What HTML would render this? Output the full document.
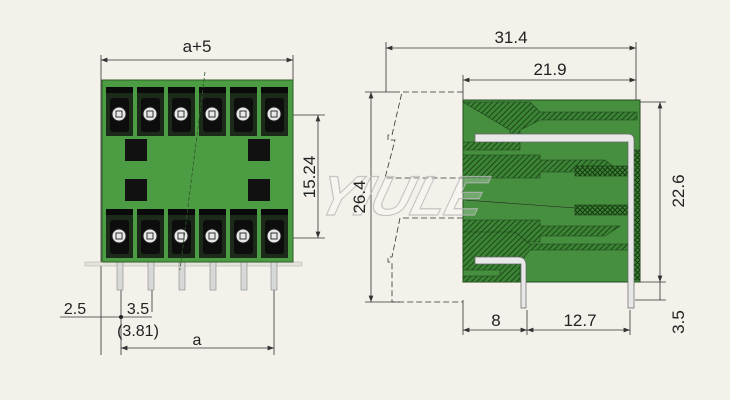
<!DOCTYPE html><html><head><style>body{margin:0;background:#f3f1ea}svg{display:block}text{font-family:"Liberation Sans",sans-serif;fill:#222}</style></head><body>
<svg width="730" height="400" viewBox="0 0 730 400" xmlns="http://www.w3.org/2000/svg">
<defs>
<pattern id="h" width="4" height="4" patternUnits="userSpaceOnUse" patternTransform="rotate(45)"><rect width="4" height="4" fill="#3b8436"/><line x1="0" y1="0" x2="0" y2="4" stroke="#15380f" stroke-width="1.6"/></pattern>
<pattern id="x" width="5" height="5" patternUnits="userSpaceOnUse"><rect width="5" height="5" fill="#3b8436"/><path d="M0,0 L5,5 M5,0 L0,5" stroke="#15380f" stroke-width="1"/></pattern>
<marker id="a" markerWidth="8" markerHeight="6" refX="8" refY="3" orient="auto-start-reverse"><path d="M0,0 L8,3 L0,6z" fill="#333"/></marker>
</defs>
<rect width="730" height="400" fill="#f3f1ea"/>
<!-- LEFT VIEW -->
<g stroke="#333" stroke-width="0.8" fill="none">
<line x1="101" y1="55" x2="101" y2="355"/><line x1="293" y1="55" x2="293" y2="80"/>
<line x1="101" y1="60" x2="293" y2="60" marker-start="url(#a)" marker-end="url(#a)"/>
<line x1="290" y1="115" x2="325" y2="115"/><line x1="290" y1="238" x2="325" y2="238"/>
<line x1="318" y1="115" x2="318" y2="238" marker-start="url(#a)" marker-end="url(#a)"/>
<line x1="121" y1="290" x2="121" y2="355"/><line x1="274" y1="290" x2="274" y2="355"/>
<line x1="152" y1="290" x2="152" y2="312"/>
<line x1="60" y1="317" x2="121" y2="317"/><line x1="121" y1="317" x2="152" y2="317"/>
<line x1="121" y1="348" x2="274" y2="348" marker-start="url(#a)" marker-end="url(#a)"/>
</g>
<circle cx="121" cy="317" r="2" fill="#222"/>
<rect x="85" y="262" width="217" height="4" fill="#e6e3da" stroke="#aaa" stroke-width="0.5"/>
<g fill="#d8d8d8" stroke="#888" stroke-width="0.6">
<rect x="117" y="262" width="6" height="28"/><rect x="148" y="262" width="6" height="28"/><rect x="179" y="262" width="6" height="28"/><rect x="210" y="262" width="6" height="28"/><rect x="241" y="262" width="6" height="28"/><rect x="271" y="262" width="6" height="28"/>
</g>
<rect x="102" y="80" width="191" height="182" fill="#4c9c44" stroke="#2d5e28"/>
<g id="row">
<g id="cell">
<rect x="106" y="87" width="27" height="49" fill="#1c2a1a"/>
<rect x="106" y="87" width="27" height="6" fill="#0a0a0a"/>
<rect x="110" y="98" width="19" height="34" rx="3" fill="#0d0d0d"/>
<circle cx="119" cy="114" r="7" fill="#e8e8e8" stroke="#222"/>
<rect x="116" y="111" width="6" height="6" fill="none" stroke="#333"/>
</g>
<use href="#cell" x="31"/><use href="#cell" x="62"/><use href="#cell" x="93"/><use href="#cell" x="124"/><use href="#cell" x="155"/>
</g>
<use href="#row" y="122"/>
<g fill="#111"><rect x="125" y="139" width="22" height="22"/><rect x="125" y="179" width="22" height="22"/><rect x="248" y="139" width="22" height="22"/><rect x="248" y="179" width="22" height="22"/></g>
<line x1="205" y1="72" x2="180" y2="270" stroke="#2a5a25" stroke-width="0.8" stroke-dasharray="4,2"/>
<text x="197" y="52" font-size="17" text-anchor="middle">a+5</text>
<text transform="translate(318,177) rotate(-90)" font-size="17" text-anchor="middle" y="-3">15.24</text>
<text x="75" y="314" font-size="16" text-anchor="middle">2.5</text>
<text x="138" y="314" font-size="16" text-anchor="middle">3.5</text>
<text x="138" y="336" font-size="16" text-anchor="middle">(3.81)</text>
<text x="197" y="345" font-size="16" text-anchor="middle">a</text>
<!-- RIGHT VIEW -->
<g stroke="#333" stroke-width="0.8" fill="none">
<line x1="386" y1="42" x2="386" y2="92"/><line x1="636" y1="42" x2="636" y2="100"/><line x1="463" y1="75" x2="463" y2="100"/>
<line x1="386" y1="48" x2="636" y2="48" marker-start="url(#a)" marker-end="url(#a)"/>
<line x1="463" y1="80" x2="636" y2="80" marker-start="url(#a)" marker-end="url(#a)"/>
<line x1="365" y1="92" x2="400" y2="92"/><line x1="365" y1="302" x2="400" y2="302"/>
<line x1="371" y1="92" x2="371" y2="302" marker-start="url(#a)" marker-end="url(#a)"/>
<line x1="640" y1="102" x2="666" y2="102"/><line x1="640" y1="282" x2="666" y2="282"/><line x1="635" y1="300" x2="666" y2="300"/>
<line x1="660" y1="102" x2="660" y2="282" marker-start="url(#a)" marker-end="url(#a)"/>
<line x1="660" y1="282" x2="660" y2="300"/>
<line x1="463" y1="300" x2="463" y2="335"/><line x1="527" y1="310" x2="527" y2="335"/><line x1="630" y1="310" x2="630" y2="335"/>
<line x1="463" y1="330" x2="527" y2="330" marker-start="url(#a)" marker-end="url(#a)"/>
<line x1="527" y1="330" x2="630" y2="330" marker-start="url(#a)" marker-end="url(#a)"/>
<path d="M463,92 H402 L392,135 H388 V140 H395 L385,178 H463 M463,218 H400 L392,257 H388 V262 H392 V302 H463" stroke-dasharray="6,3"/>
</g>
<rect x="463" y="100" width="177" height="182" fill="#468f3f" stroke="#244f20"/>
<path d="M463,102 H530 L540,112 H637 V120 H540 L520,130 V150 H463 V142 H510 V130 Z" fill="url(#h)" stroke="#1d401a" stroke-width="0.6"/>
<path d="M463,155 H540 V160 H605 L620,172 H540 V178 H463 Z" fill="url(#h)" stroke="#1d401a" stroke-width="0.6"/>
<path d="M463,220 H540 V226 H620 L605,236 H540 V242 H463 Z" fill="url(#h)" stroke="#1d401a" stroke-width="0.6"/>
<path d="M463,282 H520 V262 L530,250 H628 V244 H530 L515,232 H463 V270 H500 V276 H463 Z" fill="url(#h)" stroke="#1d401a" stroke-width="0.6"/>
<rect x="575" y="166" width="55" height="10" fill="url(#x)" stroke="#1d401a" stroke-width="0.6"/><rect x="575" y="205" width="55" height="10" fill="url(#x)" stroke="#1d401a" stroke-width="0.6"/>
<rect x="632" y="150" width="8" height="130" fill="url(#x)" stroke="#1d401a" stroke-width="0.6"/>
<line x1="465" y1="200" x2="575" y2="208" stroke="#222" stroke-width="0.6"/>
<g fill="#e8e8e8" stroke="#666" stroke-width="0.7">
<path d="M475,134 H628 Q634,134 634,140 V308 H628 V142 H475 Z"/>
<path d="M475,257 H518 Q526,257 526,265 V308 H521 V264 H475 Z"/>
</g>
<text transform="translate(400,195) skewX(-15)" font-size="56" font-style="italic" font-weight="bold" stroke="#bbb" stroke-width="1.2" opacity="0.8" x="-80" y="20" style="fill:rgba(255,255,255,0.3)">YIULE</text>
<text x="511" y="43" font-size="17" text-anchor="middle">31.4</text>
<text x="550" y="75" font-size="17" text-anchor="middle">21.9</text>
<text transform="translate(365,197) rotate(-90)" font-size="17" text-anchor="middle">26.4</text>
<text transform="translate(684,191) rotate(-90)" font-size="17" text-anchor="middle">22.6</text>
<text transform="translate(684,322) rotate(-90)" font-size="17" text-anchor="middle">3.5</text>
<text x="496" y="326" font-size="17" text-anchor="middle">8</text>
<text x="580" y="326" font-size="17" text-anchor="middle">12.7</text>
</svg>
</body></html>
